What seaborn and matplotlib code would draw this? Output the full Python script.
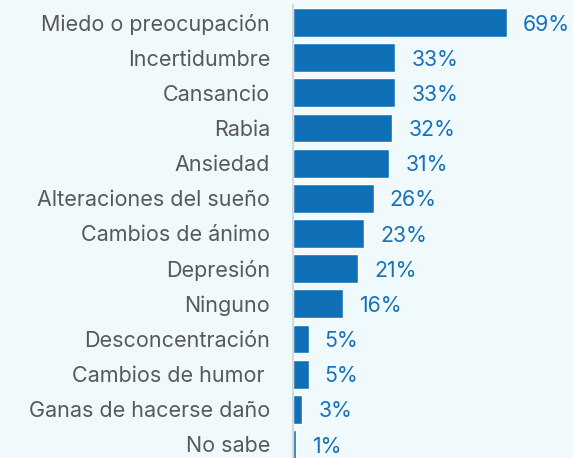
import matplotlib
matplotlib.use("Agg")
import matplotlib.pyplot as plt
import seaborn as sns
import pandas as pd

categorias = ["Miedo o preocupación", "Incertidumbre", "Cansancio", "Rabia", "Ansiedad",
              "Alteraciones del sueño", "Cambios de ánimo", "Depresión", "Ninguno",
              "Desconcentración", "Cambios de humor ", "Ganas de hacerse daño", "No sabe"]
porcentajes = [69, 33, 33, 32, 31, 26, 23, 21, 16, 5, 5, 3, 1]

df = pd.DataFrame({"categoria": categorias, "pct": porcentajes})

sns.set_style("white")
plt.rcParams['font.family'] = ['Inter', 'DejaVu Sans']

fondo = "#F0F9FC"
azul = "#0F70B7"

fig = plt.figure(figsize=(5.73, 4.58), dpi=100, facecolor=fondo)
# area de ejes en pixeles: izquierda 293, arriba ~5, abajo ~462
ax = fig.add_axes([293 / 573, (458 - 462) / 458, 280 / 573, 457 / 458])
ax.set_facecolor(fondo)

sns.barplot(data=df, x="pct", y="categoria", orient="h", color=azul,
            width=0.82, saturation=1, ax=ax)

for i, v in enumerate(porcentajes):
    ax.text(v + 5.2, i + 0.06, f"{v}%", va="center", ha="left", color="#1572BA", fontsize=15.3)

ax.set_xlim(0, 280 / 3.1)
ax.set_ylim(12.5, -0.5)
ax.set_xlabel("")
ax.set_ylabel("")
ax.set_xticks([])
ax.tick_params(axis="y", length=0, pad=16.5, labelsize=15.5, labelcolor="#595959")
for s in ["top", "right", "bottom"]:
    ax.spines[s].set_visible(False)
ax.spines["left"].set_color("#D6D9DB")
ax.spines["left"].set_linewidth(1.5)

fig.savefig("out.png", dpi=100, facecolor=fondo)
